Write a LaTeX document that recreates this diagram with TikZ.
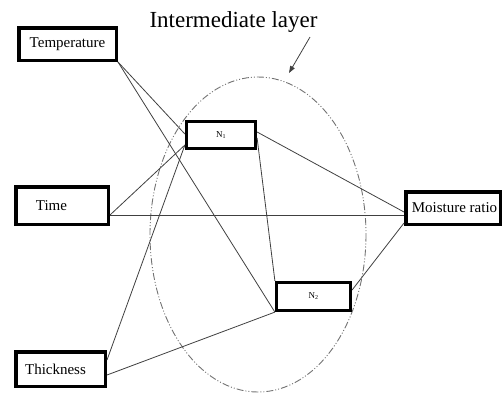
\documentclass[tikz,border=0pt]{standalone}
\usepackage{fontspec}
\setmainfont{Liberation Serif}
\usetikzlibrary{arrows.meta}
\begin{document}
\begin{tikzpicture}[x=1pt,y=-1pt,
  box/.style={draw=black, line width=3.5pt, fill=white, inner sep=0pt,
    font=\fontsize{15}{17}\selectfont},
  hid/.style={draw=black, line width=3.2pt, fill=white, inner sep=0pt,
    font=\fontsize{9}{10}\selectfont},
  link/.style={draw=black!75, line width=0.8pt},
  layer/.style={draw=black!55, line width=0.9pt,
    dash pattern=on 7pt off 2pt on 1pt off 2pt on 1pt off 2pt}]
\useasboundingbox (0,0) rectangle (504,392);
% intermediate layer
\draw[layer] (258,234.5) ellipse [x radius=108, y radius=157.5];
\node[font=\fontsize{23}{25}\selectfont, anchor=base] (title) at (233.5,27) {Intermediate layer};
\coordinate (arrtail) at (310,37);
\coordinate (arrhead) at (289,73);
\draw[black!75, line width=0.8pt, -{Stealth[length=7pt,width=5pt,inset=0pt]}] (arrtail) -- (arrhead);
% boxes
\node[box, minimum width=97.5, minimum height=32.5] (temp) at (67.5,44) {Temperature};
\node[box, minimum width=92.5, minimum height=37.5] (time) at (62,205.5) {Time\kern21pt};
\node[box, minimum width=89.5, minimum height=34.5] (thick) at (60.5,369) {Thickness\kern10pt};
\node[hid, minimum width=69, minimum height=27] (n1) at (221,135) {N\textsubscript{1}};
\node[hid, minimum width=74, minimum height=28] (n2) at (313.5,296.5) {N\textsubscript{2}};
\node[box, minimum width=94.5, minimum height=32.5] (moist) at (453,208) {\kern3pt Moisture ratio};
% links
\draw[link] (temp.south east) -- ([yshift=1pt]n1.west);
\draw[link] (temp.south east) -- (n2.south west);
\draw[link] ([yshift=-9.5pt]time.east) -- ([yshift=-10pt]n1.west);
\draw[link] ([yshift=-9.5pt]time.east) -- ([yshift=-7pt]moist.west);
\draw[link] ([yshift=9pt]thick.east) -- ([yshift=-10pt]n1.west);
\draw[link] ([yshift=-6pt]thick.east) -- (n2.south west);
\draw[link] ([yshift=3pt]n1.east) -- ([yshift=-4pt]moist.west);
\draw[link] ([yshift=-3pt]n1.east) -- (n2.north west);
\draw[link] ([yshift=6.5pt]n2.east) -- ([yshift=-15pt]moist.west);
\end{tikzpicture}
\end{document}
